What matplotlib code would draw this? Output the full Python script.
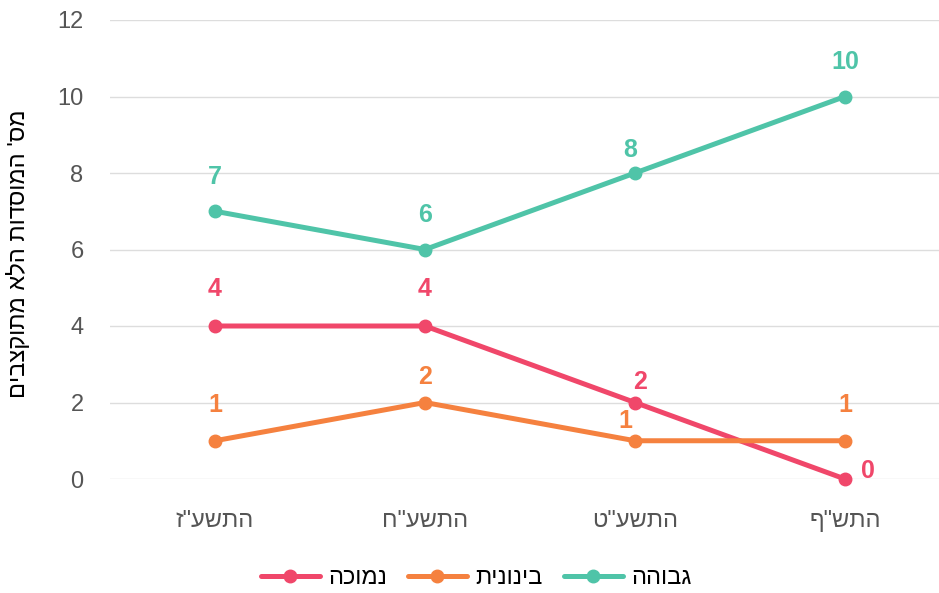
import numpy as np
import matplotlib.pyplot as plt

# data
years = ['התשע"ז', 'התשע"ח', 'התשע"ט', 'התש"ף']
low = [4, 4, 2, 0]
medium = [1, 2, 1, 1]
high = [7, 6, 8, 10]
series_names = ['נמוכה', 'בינונית', 'גבוהה']
y_title = "מס' המוסדות הלא מתוקצבים"


def rtl(s):
    # matplotlib has no bidi support, so flip Hebrew to visual order
    return s[::-1]


plt.rcParams['font.family'] = ['Liberation Sans', 'DejaVu Sans']

colors = ['#F0476A', '#F5813F', '#4FC4A8']
# label offsets (points) per series / point
offsets = [
    [(0, 26.5), (0, 26.5), (3.5, 15), (16.5, 6)],
    [(0, 26), (0, 18), (-7, 14), (0, 26)],
    [(0, 24.5), (0, 24.5), (-3.5, 16.5), (0, 24.5)],
]

fig = plt.figure(figsize=(9.39, 5.93), dpi=100)
ax = fig.add_axes([110 / 939, 114 / 593, 1 - 110 / 939, 459 / 593])

x = np.arange(len(years))
for vals, name, c, offs in zip([low, medium, high], series_names, colors, offsets):
    ax.plot(x, vals, color=c, lw=3.6, marker='o', ms=9, label=rtl(name),
            solid_capstyle='round', zorder=3, clip_on=False)
    for xi, v, o in zip(x, vals, offs):
        ax.annotate(str(v), (xi, v), xytext=o, textcoords='offset points',
                    ha='center', va='center', color=c, fontsize=18,
                    fontweight='bold', zorder=4)

ax.set_xlim(-0.5, 3 + (939 - 845) / 210)
ax.set_ylim(0, 12)
ax.set_yticks(range(0, 13, 2))
ax.set_xticks(x)
ax.set_xticklabels([rtl(y) for y in years])
ax.grid(axis='y', color='#DDDDDD', lw=1)
ax.set_axisbelow(True)
for s in ax.spines.values():
    s.set_visible(False)
ax.tick_params(axis='both', length=0, labelsize=17, colors='#555555')
ax.tick_params(axis='y', pad=19)
ax.tick_params(axis='x', pad=22)
ax.set_ylabel(rtl(y_title), fontsize=17, color='black', va='center')
ax.yaxis.set_label_coords(-0.111, 0.49)

fig.legend(loc='center', bbox_to_anchor=(476 / 939, 1 - 578 / 593), ncol=3,
           frameon=False, fontsize=17, handlelength=2.5, columnspacing=0.9,
           handletextpad=0.35)

fig.savefig('out.png', dpi=100)
